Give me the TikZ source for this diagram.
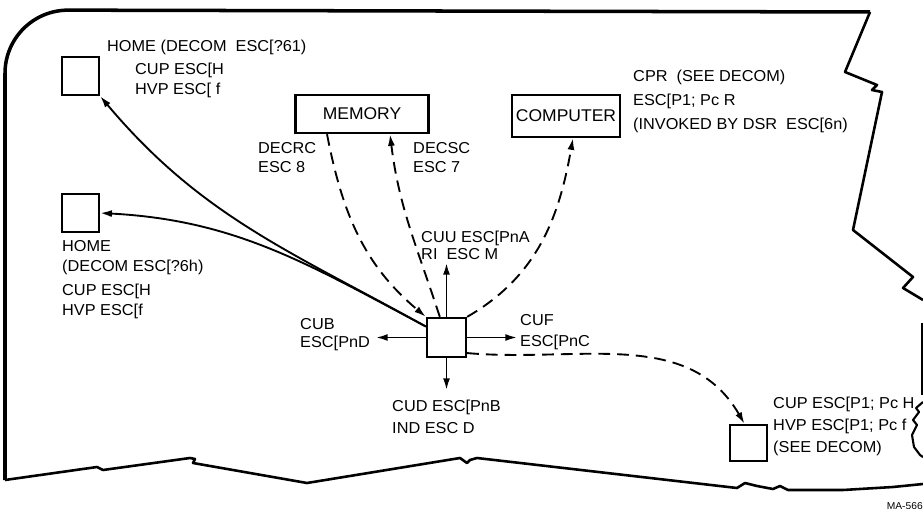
\documentclass[tikz,border=0pt]{standalone}
\usepackage{fontspec}
\setmainfont{Liberation Sans}[FakeStretch=1.03]
\usepackage{tikz}
\usetikzlibrary{arrows.meta, positioning, calc}

\begin{document}
\begin{tikzpicture}[x=0.03cm, y=-0.03cm,
	frame/.style={line width=2.2pt, line join=round},
	box/.style={draw, line width=2pt, inner sep=0pt, font=\fontsize{14.5}{16}\selectfont},
	lbl/.style={inner sep=0pt, align=left, anchor=west, font=\fontsize{13.5}{#1}\selectfont},
	lbl/.default=17pt,
	arr/.style={line width=1.6pt, -{Latex[length=10pt,width=6pt]}},
	dsh/.style={arr, dash pattern=on 10pt off 6pt}]
	\useasboundingbox (0,0) rectangle (923,512);
	\draw[frame, line width=3pt] (5,480) [rounded corners=1.9cm] -- (5,10) [sharp corners] -- (870,12);
	\draw[frame] (870,12) -- (845,72) -- (877,85) -- (872,90) -- (882,92) -- (853,230) -- (913,277) -- (903,288) -- (923,300);
	\draw[frame] (922,323) -- (922,395);
	\draw[frame, line width=1.8pt] (923,402) -- (916,408) -- (919,412) -- (913,420) -- (917,425) -- (912,435) -- (914,447) -- (920,455) -- (923,457);
	\draw[frame] (923,484) -- (893,487) -- (843,490) -- (788,490) -- (780,486) -- (773,489) -- (757,486) -- (745,483) -- (737,488) -- (477,458) -- (470,460) -- (467,463) -- (460,458) -- (307,483) -- (193,463) -- (195,459) -- (190,458) -- (103,470) -- (97,467) -- (5,480);

	\node[box, minimum width=1.11cm, minimum height=1.14cm] (hometop) at (80.5,76) {};
	\node[box, minimum width=1.11cm, minimum height=1.14cm] (homeleft) at (80.5,213) {};
	\node[box, minimum width=3.99cm, minimum height=1.14cm] (mem) at (362,114) {MEMORY};
	\node[box, minimum width=3.24cm, minimum height=1.26cm] (comp) at (566,116) {COMPUTER};
	\node[box, minimum width=1.17cm, minimum height=1.17cm] (cursor) at (446.5,337.5) {};
	\node[box, minimum width=1.11cm, minimum height=1.08cm] (target) at (748.5,443) {};

	\coordinate (upend) at (446.5,263);
	\coordinate (downend) at (446.5,390);
	\coordinate (leftend) at (376,337.5);
	\coordinate (rightend) at (517,337.5);

	\node[lbl] (hometxt) at (107,47) {HOME (DECOM\ \ ESC[?61)};
	\node[lbl=17pt] (hometxtb) at (135,80) {CUP ESC[H\\HVP ESC[ f};
	\node[lbl=16pt] (decrc) at (258,157.5) {DECRC\\ESC 8};
	\node[lbl=16pt] (decsc) at (413,157.5) {DECSC\\ESC 7};
	\node[lbl=20.5pt] (cpr) at (633,101.5) {CPR\ \ (SEE DECOM)\\ESC[P1; Pc R\\(INVOKED BY DSR\ \ ESC[6n)};
	\node[lbl=17pt] (homeb) at (62,258) {HOME\\(DECOM ESC[?6h)};
	\node[lbl=17pt] (homebb) at (62,301) {CUP ESC[H\\HVP ESC[f};
	\node[lbl=14.5pt] (cuu) at (421,245) {CUU ESC[PnA\\RI\ \ ESC M};
	\node[lbl=15.5pt] (cub) at (300,335) {CUB\\ESC[PnD};
	\node[lbl=18pt] (cuf) at (520,332.5) {CUF\\ESC[PnC};
	\node[lbl=18.5pt] (cud) at (392,417) {CUD ESC[PnB\\IND ESC D};
	\node[lbl=18.5pt] (cup) at (773,426.5) {CUP ESC[P1; Pc H\\HVP ESC[P1; Pc f\\(SEE DECOM)};
	\node[inner sep=0pt, anchor=east, font=\fontsize{8.5}{9}\selectfont] (fig) at (923,506) {MA-566};

	\draw[arr] (cursor.152) to[out=151,in=-50] (hometop.south east);
	\draw[arr] (cursor.152) to[out=152,in=-3] (homeleft.east);
	\draw[dsh] ($(mem.south)+(-35,0)$) to[out=-79,in=140] (cursor.north west);
	\draw[dsh] (cursor.108) to[out=108,in=-83] ($(mem.south)+(28,0)$);
	\draw[dsh] (cursor.north east) to[out=30,in=-100] ($(comp.south)+(7,0)$);
	\draw[dsh] (cursor.-37) to[out=-5,in=120] ($(target.north)+(-4,0)$);
	\draw[arr] (cursor.north) -- (upend);
	\draw[arr] (cursor.south) -- (downend);
	\draw[arr] (cursor.west) -- (leftend);
	\draw[arr] (cursor.east) -- (rightend);
\end{tikzpicture}
\end{document}
